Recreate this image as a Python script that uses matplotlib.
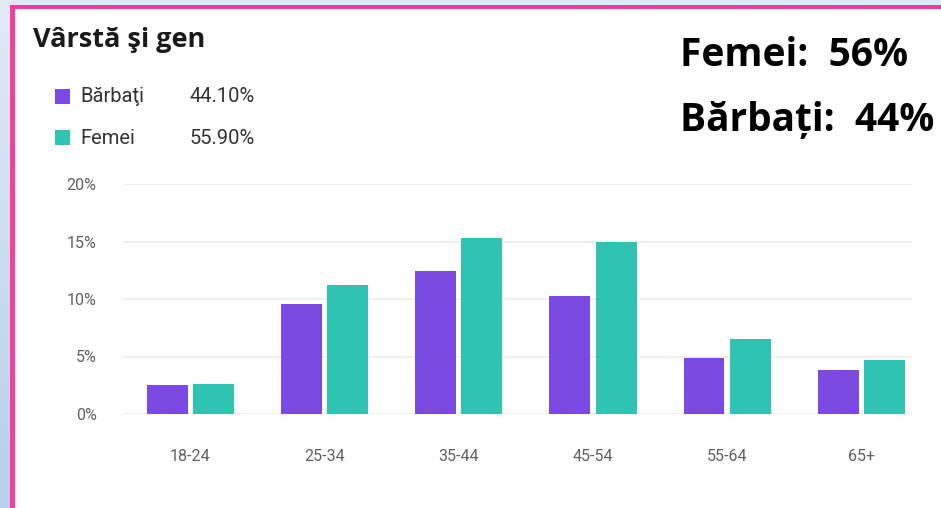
import matplotlib.pyplot as plt
import numpy as np
from matplotlib.patches import Rectangle

# date: grupe de vârstă, procente pe sex
grupe = ['18-24', '25-34', '35-44', '45-54', '55-64', '65+']
barbati = [2.5, 9.6, 12.4, 10.3, 4.9, 3.8]
femei = [2.6, 11.2, 15.3, 15.0, 6.5, 4.7]
total_barbati = '44.10%'
total_femei = '55.90%'
y_ticks = [0, 5, 10, 15, 20]

c_barbati = '#7b4ae2'
c_femei = '#2ec4b1'
roz = '#fb3c9c'

W, H = 941, 508
fig = plt.figure(figsize=(W / 100, H / 100), dpi=100)
fig.patch.set_facecolor('white')

# fundal albastru cu gradient + panou alb cu chenar roz
bg = fig.add_axes([0, 0, 1, 1], zorder=-10)
grad = np.linspace(0, 1, 256).reshape(-1, 1)
bg.imshow(grad, aspect='auto', extent=[0, 1, 0, 1],
          cmap=plt.matplotlib.colors.LinearSegmentedColormap.from_list('b', ['#e2eaf6', '#b7cfea']),
          origin='upper')
bg.set_xlim(0, 1)
bg.set_ylim(0, 1)
bg.axis('off')
bg.add_patch(Rectangle((15 / W, 0), 1, 1 - 9 / H, facecolor='white', edgecolor='none'))
bg.add_patch(Rectangle((10 / W, 0), 5 / W, 1 - 5 / H, facecolor=roz, edgecolor='none'))
bg.add_patch(Rectangle((10 / W, 1 - 9 / H), 1, 4 / H, facecolor=roz, edgecolor='none'))

# graficul cu bare
ax = fig.add_axes([123 / W, 1 - 414 / H, (912 - 123) / W, (414 - 184) / H])
x = np.arange(len(grupe))
w = 0.305
ax.bar(x - 0.17, barbati, w, color=c_barbati, zorder=3)
ax.bar(x + 0.175, femei, w, color=c_femei, zorder=3)
ax.set_xlim(-0.5, 5.38)
ax.set_ylim(0, 20)
ax.set_yticks(y_ticks)
ax.set_yticklabels([f'{v}%' for v in y_ticks])
ax.set_xticks(x)
ax.set_xticklabels(grupe)
ax.grid(axis='y', color='#ececec', linewidth=1.2, zorder=0)
for s in ax.spines.values():
    s.set_visible(False)
ax.tick_params(length=0, colors='#606060', labelsize=11.5)
ax.tick_params(axis='y', pad=19)
ax.tick_params(axis='x', pad=25)
for lab in ax.get_xticklabels() + ax.get_yticklabels():
    lab.set_fontfamily(['Roboto', 'DejaVu Sans'])

# titlu și legendă
fig.text(33 / W, 1 - 47 / H, 'Vârstă şi gen', fontsize=19.5, fontweight='bold',
         family=['Open Sans', 'DejaVu Sans'], color='#1a1a1a', va='baseline')
leg = [('Bărbaţi', total_barbati, c_barbati, 96), ('Femei', total_femei, c_femei, 138)]
for nume, val, col, yc in leg:
    bg.add_patch(Rectangle((55 / W, 1 - (yc + 7.5) / H), 15 / W, 15 / H,
                           facecolor=col, edgecolor='none'))
    fig.text(80 / W, 1 - yc / H, nume, fontsize=14.5, color='#333333', va='center',
             family=['Roboto', 'DejaVu Sans'])
    fig.text(255 / W, 1 - yc / H, val, fontsize=14.5, color='#333333', va='center', ha='right',
             family=['Roboto', 'DejaVu Sans'])

# rezumat mare în dreapta
fig.text(680 / W, 1 - 66 / H, 'Femei:  56%', fontsize=28, fontweight='bold',
         family=['Open Sans', 'DejaVu Sans'], color='black', va='baseline')
fig.text(680 / W, 1 - 131 / H, 'Bărbați:  44%', fontsize=28, fontweight='bold',
         family=['Open Sans', 'DejaVu Sans'], color='black', va='baseline')

fig.savefig('out.png', dpi=100)
